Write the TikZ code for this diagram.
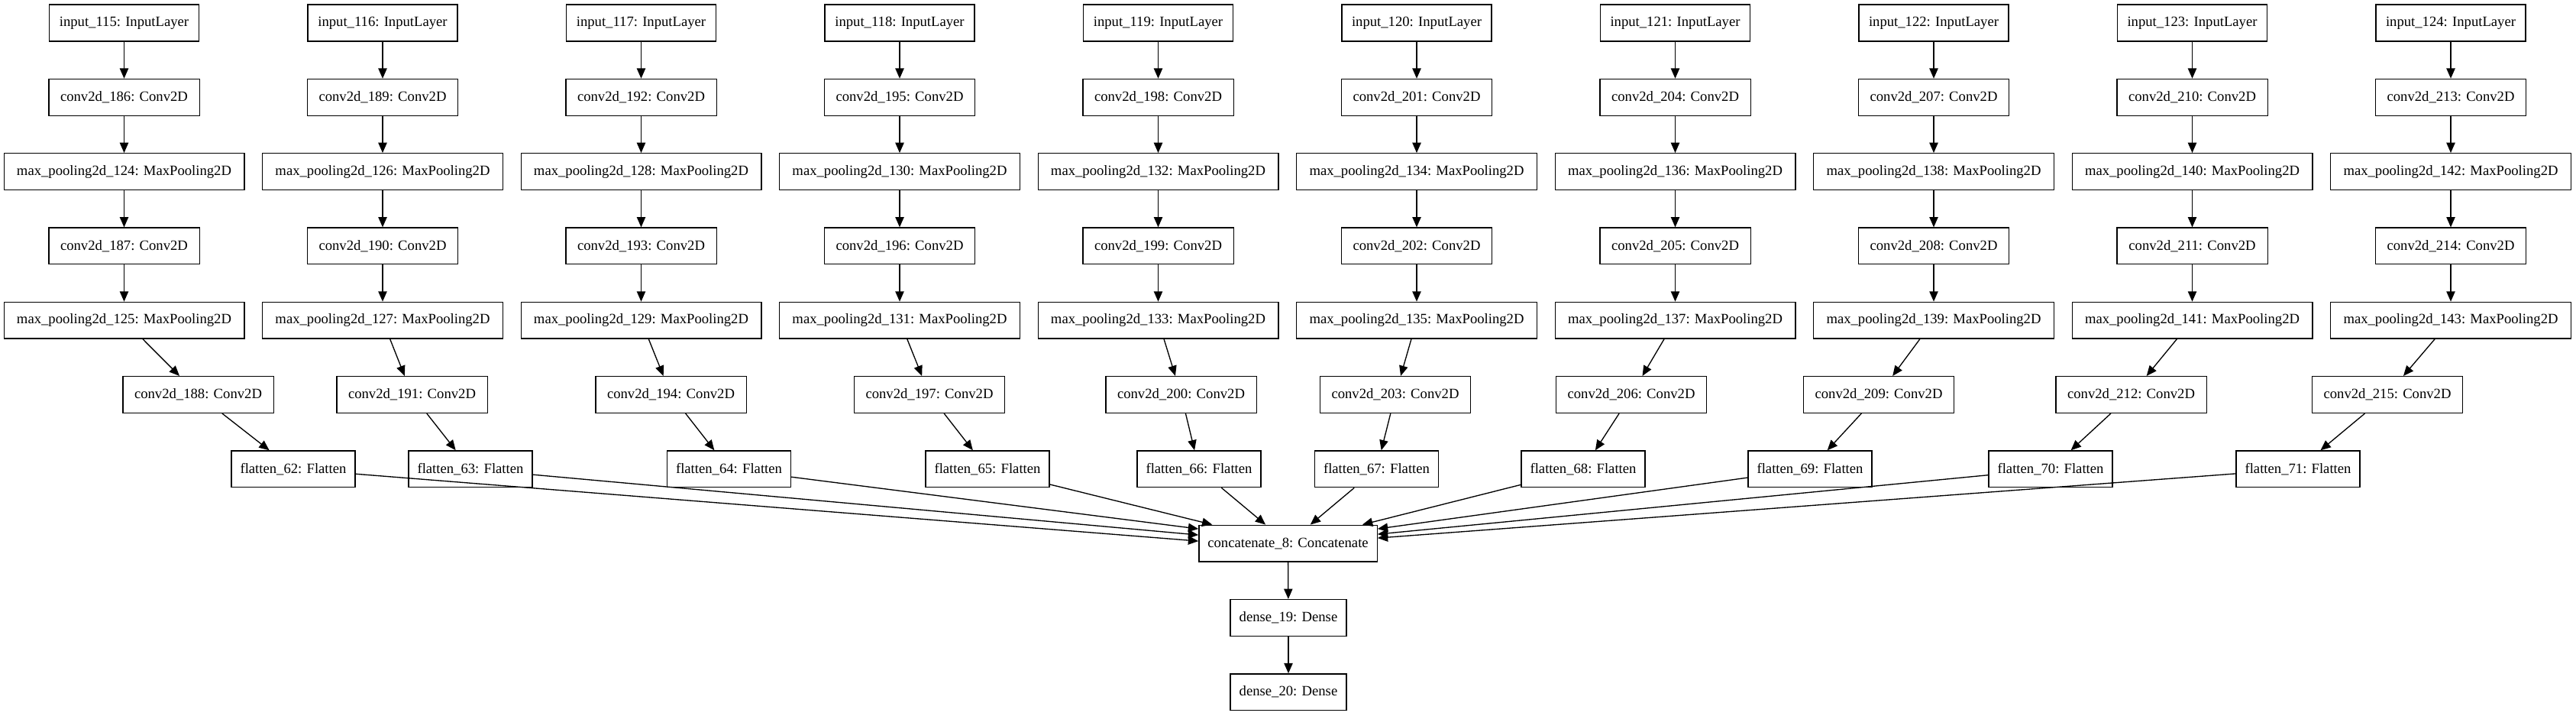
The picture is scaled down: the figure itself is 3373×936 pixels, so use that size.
\documentclass[tikz,border=0pt]{standalone}
\usepackage{fontspec}
\setmainfont{Liberation Serif}
\usetikzlibrary{arrows.meta}

\tikzset{
  layer/.style={draw, line width=1pt, minimum height=35.8pt, inner xsep=5pt,
    font=\fontsize{14pt}{16pt}\selectfont},
  inbox/.style={layer, minimum width=147pt},
  convbox/.style={layer, minimum width=148pt},
  poolbox/.style={layer, minimum width=236pt},
  flatbox/.style={layer, minimum width=121.5pt},
  catbox/.style={layer, minimum width=175pt},
  densebox/.style={layer, minimum width=114pt},
  conn/.style={-{Triangle[length=10pt,width=8.5pt]}, line width=1pt}
}

\begin{document}
\begin{tikzpicture}[x=0.75pt,y=-0.75pt]
\useasboundingbox (0,0) rectangle (3373,936);
% ten branches
\foreach \i/\cx/\fx in {0/259.5/384,1/539.5/616,2/878.5/954.5,3/1217/1293,4/1546.5/1570,
    5/1827/1802.5,6/2136/2073,7/2460/2370,8/2790.5/2685,9/3126/3009}{
  \pgfmathsetmacro\colx{162.5+338.5*\i}
  \pgfmathtruncatemacro\nin{115+\i}
  \pgfmathtruncatemacro\nca{186+3*\i}
  \pgfmathtruncatemacro\ncb{187+3*\i}
  \pgfmathtruncatemacro\ncc{188+3*\i}
  \pgfmathtruncatemacro\npa{124+2*\i}
  \pgfmathtruncatemacro\npb{125+2*\i}
  \pgfmathtruncatemacro\nfl{62+\i}
  \node[inbox] (in\i) at (\colx,30) {input\_\nin: InputLayer};
  \node[convbox] (cva\i) at (\colx,127.3) {conv2d\_\nca: Conv2D};
  \node[poolbox] (mpa\i) at (\colx,224.6) {max\_pooling2d\_\npa: MaxPooling2D};
  \node[convbox] (cvb\i) at (\colx,321.9) {conv2d\_\ncb: Conv2D};
  \node[poolbox] (mpb\i) at (\colx,419.2) {max\_pooling2d\_\npb: MaxPooling2D};
  \node[convbox] (cvc\i) at (\cx,516.5) {conv2d\_\ncc: Conv2D};
  \node[flatbox] (fl\i) at (\fx,613.8) {flatten\_\nfl: Flatten};
  \draw[conn] (in\i) -- (cva\i);
  \draw[conn] (cva\i) -- (mpa\i);
  \draw[conn] (mpa\i) -- (cvb\i);
  \draw[conn] (cvb\i) -- (mpb\i);
  \draw[conn] (mpb\i) -- (cvc\i);
  \draw[conn] (cvc\i) -- (fl\i);
}
% merge and head
\node[catbox] (cat) at (1686.5,711.1) {concatenate\_8: Concatenate};
\node[densebox] (dns19) at (1687,808.4) {dense\_19: Dense};
\node[densebox] (dns20) at (1687,905.7) {dense\_20: Dense};
\draw[conn] (fl0) -- ([yshift=2.25pt]cat.west);
\draw[conn] (fl1) -- ([yshift=8.25pt]cat.west);
\draw[conn] (fl2) -- ([yshift=14.25pt]cat.west);
\foreach \i in {3,4,5,6}
  \draw[conn] (fl\i) -- (cat);
\draw[conn] (fl7) -- ([yshift=14.25pt]cat.east);
\draw[conn] (fl8) -- ([yshift=9pt]cat.east);
\draw[conn] (fl9) -- ([yshift=5.25pt]cat.east);
\draw[conn] (cat) -- (dns19);
\draw[conn] (dns19) -- (dns20);
\end{tikzpicture}
\end{document}
